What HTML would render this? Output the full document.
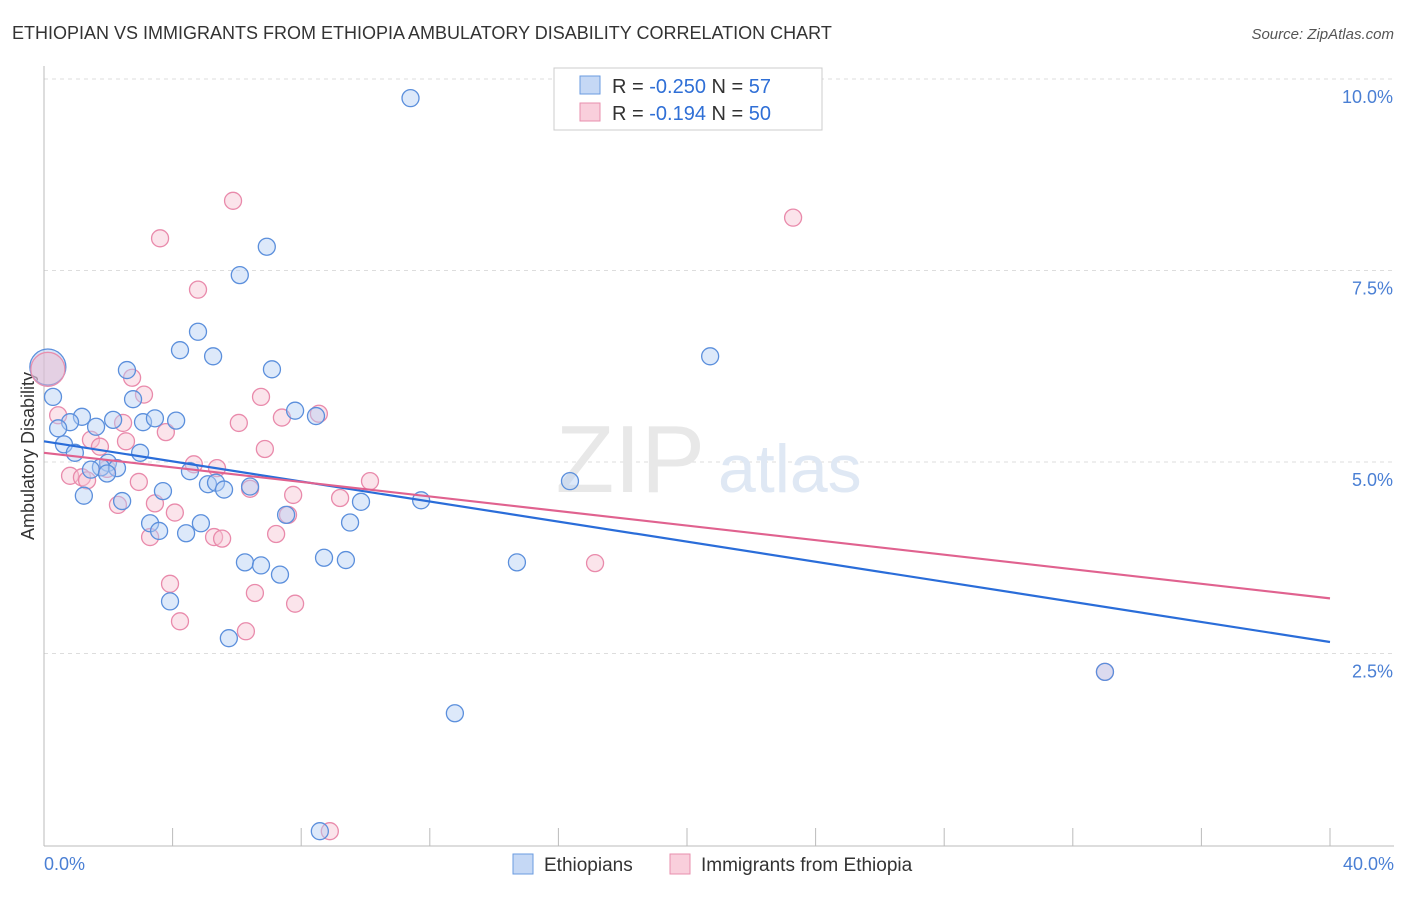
<!DOCTYPE html>
<html><head><meta charset="utf-8"><style>
body{margin:0;background:#fff;font-family:"Liberation Sans",sans-serif}
svg text{font-family:"Liberation Sans",sans-serif}
</style></head><body>
<svg width="1406" height="892" viewBox="0 0 1406 892">
<text x="12" y="39" font-size="18" fill="#333">ETHIOPIAN VS IMMIGRANTS FROM ETHIOPIA AMBULATORY DISABILITY CORRELATION CHART</text>
<text x="1394" y="39" font-size="15" fill="#555" text-anchor="end" font-style="italic">Source: ZipAtlas.com</text>
<g id="grid"></g>
<text x="705" y="492" font-size="96" fill="#e8e8e8" text-anchor="end" font-family="Liberation Serif">ZIP</text>
<text x="718" y="492" font-size="68" fill="#dfe8f4">atlas</text>
<line x1="44" y1="66" x2="44" y2="846" stroke="#bbb"/>
<line x1="44" y1="846" x2="1394" y2="846" stroke="#bbb"/>
<text transform="translate(34,456) rotate(-90)" font-size="18" fill="#333" text-anchor="middle">Ambulatory Disability</text>
<text x="44" y="870" font-size="18" fill="#4a7fd4">0.0%</text>
<text x="1394" y="870" font-size="18" fill="#4a7fd4" text-anchor="end">40.0%</text>
<g id="pts"></g>
<g id="lines"></g>
<g>
<rect x="554" y="68" width="268" height="62" fill="#fff" stroke="#ccc"/>
<rect x="580" y="76" width="20" height="18" fill="#c5d8f5" stroke="#6a9be0"/>
<rect x="580" y="103" width="20" height="18" fill="#f9cfdc" stroke="#e88fae"/>
<text x="612" y="93" font-size="20" fill="#333">R = <tspan fill="#2f6fd6">-0.250</tspan>   N = <tspan fill="#2f6fd6">57</tspan></text>
<text x="612" y="120" font-size="20" fill="#333">R =  <tspan fill="#2f6fd6">-0.194</tspan>   N = <tspan fill="#2f6fd6">50</tspan></text>
</g>
<g>
<rect x="513" y="854" width="20" height="20" fill="#c5d8f5" stroke="#6a9be0"/>
<text x="544" y="871" font-size="19" fill="#333">Ethiopians</text>
<rect x="670" y="854" width="20" height="20" fill="#f9cfdc" stroke="#e88fae"/>
<text x="701" y="871" font-size="19" fill="#333">Immigrants from Ethiopia</text>
</g>
</svg>
<script>
const yTicks=[2.5,5,7.5,10];
const xTicks=[0,4,8,12,16,20,24,28,32,36,40];
const blueX=[11.4,6.93,6.09,4.79,4.23,5.26,20.72,2.58,7.09,2.77,0.28,1.18,0.81,2.15,3.08,3.45,4.11,7.81,8.46,1.62,0.44,0.62,0.96,2.99,1.99,1.77,2.27,1.46,4.54,1.96,1.24,2.43,3.7,5.1,5.35,5.6,6.41,9.86,11.73,16.36,3.3,4.88,3.58,4.42,7.53,9.52,6.25,6.75,7.34,8.71,9.39,14.71,3.92,5.75,33.0,12.78,8.58];
const blueY=[9.75,7.81,7.44,6.7,6.46,6.38,6.38,6.2,6.21,5.82,5.85,5.59,5.52,5.55,5.52,5.57,5.54,5.67,5.6,5.46,5.44,5.23,5.12,5.12,4.99,4.93,4.92,4.9,4.88,4.85,4.56,4.49,4.62,4.71,4.73,4.64,4.68,4.48,4.5,4.75,4.2,4.2,4.1,4.07,4.31,4.21,3.69,3.65,3.53,3.75,3.72,3.69,3.18,2.7,2.26,1.72,0.18];
const pinkX=[5.88,23.3,3.61,4.79,2.74,3.11,6.75,0.44,7.4,8.55,6.06,2.46,3.79,1.46,2.55,1.74,6.87,0.81,1.18,1.34,4.66,5.38,1.96,2.95,6.41,7.75,9.21,10.14,3.45,4.07,2.3,7.59,3.3,5.29,5.54,7.22,17.14,3.92,6.56,4.23,7.81,6.28,8.89,33.0];
const pinkY=[8.41,8.19,7.92,7.25,6.1,5.88,5.85,5.61,5.58,5.63,5.51,5.51,5.39,5.29,5.27,5.2,5.17,4.82,4.8,4.76,4.97,4.92,4.91,4.74,4.65,4.57,4.53,4.75,4.46,4.34,4.44,4.31,4.02,4.02,4.0,4.06,3.68,3.41,3.29,2.92,3.15,2.79,0.18,2.26];
const bigBlue=[0.12,6.24], bigPink=[0.12,6.21];
const blueLine=[[0,5.27],[40,2.65]];
const pinkLine=[[0,5.12],[40,3.22]];
const NS='http://www.w3.org/2000/svg';
const xs=v=>44+v/40*1286, ys=v=>845-v/10*766;
function mk(t,a,p){const e=document.createElementNS(NS,t);for(const k in a)e.setAttribute(k,a[k]);p.appendChild(e);return e;}
const grid=document.getElementById('grid');
yTicks.forEach(t=>{
 const l=mk('line',{x1:44,x2:1394,y1:ys(t),y2:ys(t),stroke:'#ddd','stroke-dasharray':'4,4'},grid);
 
 
 const tx=mk('text',{x:1393,y:ys(t)+24,'font-size':18,fill:'#4a7fd4','text-anchor':'end'},grid);
 tx.textContent=t.toFixed(1)+'%';
 
 
});
xTicks.forEach(t=>{
 const l=mk('line',{x1:xs(t),x2:xs(t),y1:828,y2:846,stroke:'#bbb'},grid);
 
 
});
const pts=document.getElementById('pts');
function dot(x,y,r,fill,stroke,name){
 const c=mk('circle',{cx:xs(x),cy:ys(y),r:r,fill:fill,'fill-opacity':0.45,stroke:stroke,'stroke-width':1.3},pts);
 
 
}
dot(bigBlue[0],bigBlue[1],18,'#a8c6f0','#5b8fdc','ethiopians-point-large');
dot(bigPink[0],bigPink[1],17,'#f5b5c9','#e88fae','immigrants-point-large');
pinkX.forEach((x,i)=>dot(x,pinkY[i],8.5,'#f7c3d3','#e98aab','immigrants-point'));
blueX.forEach((x,i)=>dot(x,blueY[i],8.5,'#b4cff3','#5b8fdc','ethiopians-point'));
const lines=document.getElementById('lines');
const bl=mk('line',{x1:xs(blueLine[0][0]),y1:ys(blueLine[0][1]),x2:xs(blueLine[1][0]),y2:ys(blueLine[1][1]),stroke:'#2a6dd9','stroke-width':2.2},lines);


const pl=mk('line',{x1:xs(pinkLine[0][0]),y1:ys(pinkLine[0][1]),x2:xs(pinkLine[1][0]),y2:ys(pinkLine[1][1]),stroke:'#e0628f','stroke-width':2.2},lines);


</script>
</body></html>
